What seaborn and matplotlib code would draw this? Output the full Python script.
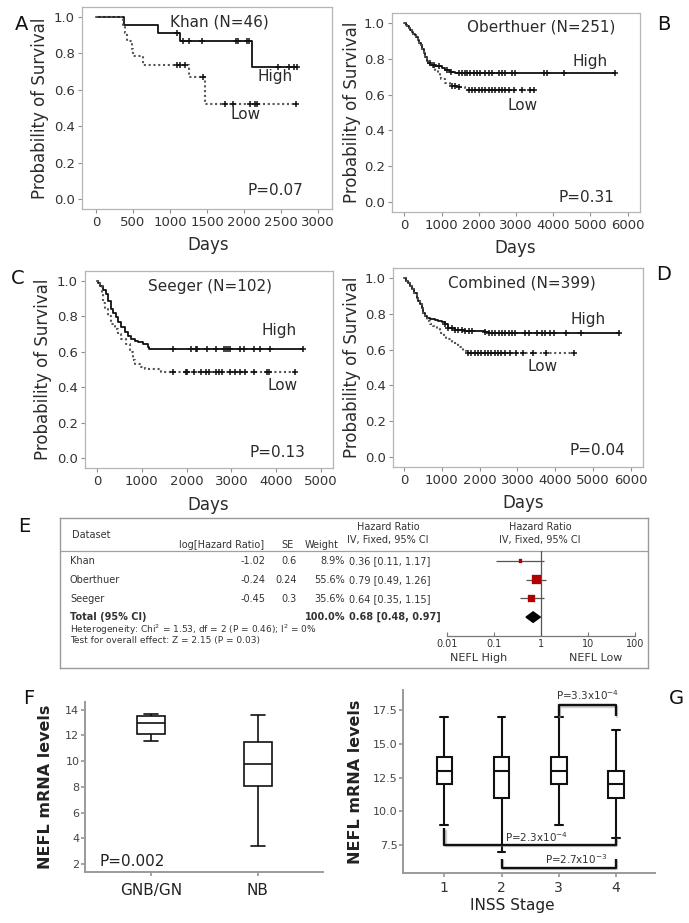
import numpy as np
import pandas as pd
import matplotlib
matplotlib.use("Agg")
import matplotlib.pyplot as plt
import matplotlib.patheffects as pe
import seaborn as sns

# ---------------------------------------------------------------- data
# Kaplan-Meier step curves (times of steps, survival after step), end of follow-up, censor times
khan_high_t = [0, 378, 838, 1135, 2108]
khan_high_s = [1.0, 0.957, 0.913, 0.870, 0.725]
khan_high_end = 2716
khan_high_cens = [1095, 1176, 1257, 1432, 1892, 1919, 2040, 2068, 2460, 2608, 2676, 2716]
khan_low_t = [0, 370, 395, 420, 480, 500, 640, 1260, 1470]
khan_low_s = [1.0, 0.957, 0.913, 0.870, 0.826, 0.783, 0.739, 0.672, 0.52]
khan_low_end = 2700
khan_low_cens = [1095, 1135, 1203, 1450, 1743, 1851, 2081, 2149, 2176, 2700]

ober_high_t = [0, 40, 80, 120, 160, 200, 240, 280, 320, 360, 400, 440, 480, 520, 560, 600,
               650, 700, 830, 1010, 1100, 1240, 1370]
ober_high_s = [1.0, 0.99, 0.98, 0.97, 0.96, 0.95, 0.94, 0.93, 0.92, 0.905, 0.89, 0.875, 0.855,
               0.83, 0.81, 0.79, 0.775, 0.765, 0.758, 0.748, 0.737, 0.725, 0.719]
ober_high_end = 5672
ober_high_cens = [699, 788, 923, 1147, 1263, 1460, 1550, 1640, 1684, 1774, 1863, 1953, 2043, 2177,
                  2267, 2356, 2535, 2625, 2715, 2894, 2983, 3745, 3835, 4283, 5672]
ober_low_t = [0, 40, 80, 120, 160, 200, 240, 280, 320, 360, 400, 440, 480, 520, 560, 600,
              650, 700, 780, 830, 900, 950, 980, 1100, 1240, 1420, 1640]
ober_low_s = [1.0, 0.99, 0.98, 0.97, 0.96, 0.95, 0.94, 0.93, 0.92, 0.905, 0.89, 0.875, 0.855,
              0.83, 0.81, 0.79, 0.775, 0.765, 0.75, 0.737, 0.72, 0.70, 0.685, 0.667, 0.648, 0.64, 0.626]
ober_low_end = 3476
ober_low_cens = [1281, 1371, 1460, 1729, 1819, 1908, 1998, 2087, 2177, 2267, 2356, 2446, 2535,
                 2625, 2715, 2804, 2939, 3163, 3387, 3476]

seeg_high_t = [0, 30, 80, 140, 214, 251, 310, 361, 435, 472, 546, 619, 693, 767, 841, 914,
               1025, 1136, 1173]
seeg_high_s = [1.0, 0.99, 0.97, 0.95, 0.923, 0.886, 0.84, 0.821, 0.793, 0.765, 0.737, 0.709,
               0.69, 0.672, 0.663, 0.654, 0.644, 0.626, 0.613]
seeg_high_end = 4602
seeg_high_cens = [1689, 2094, 2205, 2242, 2463, 2647, 2832, 2869, 2920, 2979, 3200, 3274, 3495,
                  3643, 3864, 4602]
seeg_low_t = [0, 60, 103, 140, 177, 251, 324, 398, 472, 546, 656, 730, 804, 841, 988, 1062, 1431]
seeg_low_s = [1.0, 0.97, 0.933, 0.877, 0.84, 0.803, 0.756, 0.728, 0.70, 0.672, 0.644, 0.598,
              0.551, 0.532, 0.514, 0.501, 0.485]
seeg_low_end = 4418
seeg_low_cens = [1689, 1984, 2020, 2168, 2316, 2426, 2500, 2647, 2721, 2795, 2979, 3090, 3200,
                 3311, 3495, 3790, 3827, 4418]

comb_high_t = [0, 60, 115, 160, 203, 270, 336, 380, 424, 470, 513, 560, 601, 690, 822, 911, 999,
               1088, 1176, 1353, 1618, 2149, 2237]
comb_high_s = [1.0, 0.985, 0.974, 0.955, 0.937, 0.915, 0.89, 0.87, 0.853, 0.83, 0.806, 0.79,
               0.778, 0.769, 0.763, 0.76, 0.756, 0.741, 0.719, 0.708, 0.704, 0.698, 0.694]
comb_high_end = 5687
comb_high_cens = [1088, 1176, 1264, 1353, 1441, 1530, 1618, 1707, 1795, 2149, 2237, 2326, 2414,
                  2503, 2591, 2680, 2768, 2857, 2945, 3210, 3299, 3520, 3653, 3741, 3874, 3963,
                  4272, 4670, 5687]
comb_low_t = [0, 60, 115, 160, 203, 270, 336, 380, 424, 470, 513, 560, 601, 690, 778, 867, 950,
              1050, 1100, 1265, 1441, 1574, 1662]
comb_low_s = [1.0, 0.985, 0.974, 0.955, 0.937, 0.915, 0.89, 0.87, 0.853, 0.83, 0.806, 0.785,
              0.76, 0.745, 0.732, 0.713, 0.694, 0.676, 0.657, 0.639, 0.615, 0.592, 0.583]
comb_low_end = 4492
comb_low_cens = [1689, 1777, 1866, 1954, 2043, 2131, 2220, 2308, 2396, 2485, 2573, 2662, 2794,
                 2971, 3148, 3413, 3767, 4492]

# Forest plot (panel E)
fp_datasets = ["Khan", "Oberthuer", "Seeger"]
fp_log_hr = [-1.02, -0.24, -0.45]
fp_se = [0.6, 0.24, 0.3]
fp_weight = [8.9, 55.6, 35.6]
fp_hr = [0.36, 0.79, 0.64]
fp_ci_low = [0.11, 0.49, 0.35]
fp_ci_high = [1.17, 1.26, 1.15]
fp_total = [0.68, 0.48, 0.97]   # HR, lower, upper
fp_total_weight = 100.0

# Panel F box summaries [min, q1, median, q3, max]
f_groups = ["GNB/GN", "NB"]
f_summary = [[11.6, 12.1, 13.0, 13.5, 13.7],
             [3.4, 8.1, 9.8, 11.5, 13.6]]

# Panel G box summaries [min, q1, median, q3, max]
g_stages = ["1", "2", "3", "4"]
g_summary = [[9, 12, 13, 14, 17],
             [7, 11, 13, 14, 17],
             [9, 12, 13, 14, 17],
             [8, 11, 12, 13, 16]]

# ---------------------------------------------------------------- figure
sns.set_theme(style="ticks")
plt.rcParams["font.family"] = ["DejaVu Sans"]
plt.rcParams["mathtext.default"] = "regular"

W, H = 689, 923
fig = plt.figure(figsize=(W / 100, H / 100), dpi=100)
fig.patch.set_facecolor("white")


def add_ax(x0, y0, x1, y1):
    return fig.add_axes([x0 / W, 1 - y1 / H, (x1 - x0) / W, (y1 - y0) / H])


TXT = "#2b2b2b"


def draw_km(ax, t, s, end, cens, dotted):
    tt = list(t) + [end]
    ss = list(s) + [s[-1]]
    df = pd.DataFrame({"Days": tt, "Survival": ss})
    if dotted:
        sns.lineplot(data=df, x="Days", y="Survival", ax=ax, drawstyle="steps-post",
                     estimator=None, sort=False, color="#555555", lw=1.5,
                     linestyle=(0, (1, 1.3)))
    else:
        sns.lineplot(data=df, x="Days", y="Survival", ax=ax, drawstyle="steps-post",
                     estimator=None, sort=False, color="#111111", lw=1.3)
    idx = np.searchsorted(np.asarray(t), np.asarray(cens), side="right") - 1
    cy = np.asarray(s)[idx]
    sns.scatterplot(x=cens, y=cy, ax=ax, marker="+", s=20, color="#111111",
                    linewidth=1.1, zorder=4)


def km_panel(box, xlim, xticks, high, low, title, tpos, hpos, lpos, ppos, ptxt, ylab_x, xlab_xy):
    ax = add_ax(*box)
    draw_km(ax, *high, dotted=False)
    draw_km(ax, *low, dotted=True)
    ax.set_xlim(xlim)
    ax.set_ylim(-0.055, 1.055)
    ax.set_yticks([0, 0.2, 0.4, 0.6, 0.8, 1.0])
    ax.set_yticklabels(["0.0", "0.2", "0.4", "0.6", "0.8", "1.0"])
    ax.set_xticks(xticks)
    ax.set_xticklabels([str(v) for v in xticks])
    for sp in ax.spines.values():
        sp.set_color("#b5b5b5")
        sp.set_linewidth(0.9)
    ax.tick_params(direction="out", length=3, width=0.8, color="#909090",
                   labelcolor="#333333", pad=2)
    ax.tick_params(axis="x", labelsize=9.5)
    ax.tick_params(axis="y", labelsize=9.5)
    ax.set_xlabel("Days", fontsize=12, color=TXT)
    ax.set_ylabel("Probability of Survival", fontsize=12, color=TXT)
    ax.xaxis.set_label_coords(*xlab_xy)
    ax.xaxis.label.set_va("center")
    ax.yaxis.set_label_coords(ylab_x, 0.5)
    ax.yaxis.label.set_va("center")
    ax.text(*tpos, title, transform=ax.transAxes, ha="center", va="center", fontsize=11, color=TXT)
    ax.text(*hpos, "High", transform=ax.transAxes, ha="center", va="center", fontsize=11, color=TXT)
    ax.text(*lpos, "Low", transform=ax.transAxes, ha="center", va="center", fontsize=11, color=TXT)
    ax.text(*ppos, ptxt, transform=ax.transAxes, ha="center", va="center", fontsize=11, color=TXT)
    return ax


km_panel((82, 7, 332, 209), (-189, 3189), [0, 500, 1000, 1500, 2000, 2500, 3000],
         (khan_high_t, khan_high_s, khan_high_end, khan_high_cens),
         (khan_low_t, khan_low_s, khan_low_end, khan_low_cens),
         "Khan (N=46)", (0.55, 0.925), (0.772, 0.655), (0.655, 0.47), (0.772, 0.09), "P=0.07",
         -0.168, (0.504, -0.178))

km_panel((392, 13, 640, 212), (-330, 6330), [0, 1000, 2000, 3000, 4000, 5000, 6000],
         (ober_high_t, ober_high_s, ober_high_end, ober_high_cens),
         (ober_low_t, ober_low_s, ober_low_end, ober_low_cens),
         "Oberthuer (N=251)", (0.6, 0.93), (0.798, 0.754), (0.528, 0.533), (0.786, 0.075), "P=0.31",
         -0.161, (0.496, -0.181))

km_panel((85, 271, 333, 468), (-265, 5265), [0, 1000, 2000, 3000, 4000, 5000],
         (seeg_high_t, seeg_high_s, seeg_high_end, seeg_high_cens),
         (seeg_low_t, seeg_low_s, seeg_low_end, seeg_low_cens),
         "Seeger (N=102)", (0.504, 0.919), (0.782, 0.70), (0.798, 0.42), (0.774, 0.081), "P=0.13",
         -0.169, (0.496, -0.188))

km_panel((393, 268, 643, 467), (-290, 6320), [0, 1000, 2000, 3000, 4000, 5000, 6000],
         (comb_high_t, comb_high_s, comb_high_end, comb_high_cens),
         (comb_low_t, comb_low_s, comb_low_end, comb_low_cens),
         "Combined (N=399)", (0.516, 0.925), (0.78, 0.739), (0.6, 0.503), (0.816, 0.085), "P=0.04",
         -0.165, (0.52, -0.181))

# panel letters
for lab, (px, py) in {"A": (22, 24), "B": (664, 25), "C": (18, 279), "D": (664, 274),
                      "E": (24, 527), "F": (29, 698), "G": (676, 698)}.items():
    fig.text(px / W, 1 - py / H, lab, fontsize=14, ha="center", va="center", color="#111111")

# ---------------------------------------------------------------- panel E (table + forest)
ax_e = add_ax(60, 518, 648, 668)
ax_e.set_xlim(60, 648)
ax_e.set_ylim(668, 518)
ax_e.set_xticks([])
ax_e.set_yticks([])
for sp in ax_e.spines.values():
    sp.set_color("#9a9a9a")
    sp.set_linewidth(1.0)
ax_e.axhline(551, color="#a0a0a0", lw=0.9)
tk = dict(fontsize=7, color="#333333", va="center")
ax_e.text(72, 535, "Dataset", ha="left", **tk)
ax_e.text(222, 545, "log[Hazard Ratio]", ha="center", **tk)
ax_e.text(287, 545, "SE", ha="center", **tk)
ax_e.text(322, 545, "Weight", ha="center", **tk)
ax_e.text(388, 527, "Hazard Ratio", ha="center", **tk)
ax_e.text(388, 540, "IV, Fixed, 95% CI", ha="center", **tk)
ax_e.text(540, 527, "Hazard Ratio", ha="center", **tk)
ax_e.text(540, 540, "IV, Fixed, 95% CI", ha="center", **tk)
row_y = [561, 580, 599]
for i, name in enumerate(fp_datasets):
    y = row_y[i]
    ax_e.text(70, y, name, ha="left", **tk)
    ax_e.text(266, y, f"{fp_log_hr[i]:.2f}", ha="right", **tk)
    ax_e.text(297, y, f"{fp_se[i]:g}", ha="right", **tk)
    ax_e.text(345, y, f"{fp_weight[i]:.1f}%", ha="right", **tk)
    ax_e.text(349, y, f"{fp_hr[i]:.2f} [{fp_ci_low[i]:.2f}, {fp_ci_high[i]:.2f}]", ha="left", **tk)
tb = dict(tk, fontweight="bold")
ax_e.text(70, 617, "Total (95% CI)", ha="left", **tb)
ax_e.text(345, 617, f"{fp_total_weight:.1f}%", ha="right", **tb)
ax_e.text(349, 617, f"{fp_total[0]:.2f} [{fp_total[1]:.2f}, {fp_total[2]:.2f}]", ha="left", **tb)
ax_e.text(70, 630, "Heterogeneity: Chi$^2$ = 1.53, df = 2 (P = 0.46); I$^2$ = 0%",
          ha="left", fontsize=6.5, color="#333333", va="center")
ax_e.text(70, 641, "Test for overall effect: Z = 2.15 (P = 0.03)",
          ha="left", fontsize=6.5, color="#333333", va="center")
ax_e.text(479, 658, "NEFL High", ha="center", fontsize=8, color="#333333", va="center")
ax_e.text(596, 658, "NEFL Low", ha="center", fontsize=8, color="#333333", va="center")

ax_f = add_ax(447, 551, 635, 636)
ax_f.patch.set_alpha(0)
ax_f.set_xscale("log")
ax_f.set_xlim(0.01, 100)
ax_f.set_ylim(4.01, -0.535)
rows = np.arange(len(fp_datasets))
ax_f.hlines(rows, fp_ci_low, fp_ci_high, color="#555555", lw=0.9)
fp_df = pd.DataFrame({"hr": fp_hr, "row": rows, "weight": fp_weight})
sns.scatterplot(data=fp_df, x="hr", y="row", size="weight", sizes=(5, 40), marker="s",
                color="#b00000", edgecolor="#b00000", legend=False, ax=ax_f, zorder=3)
trow = len(fp_datasets)
ax_f.fill([fp_total[1], fp_total[0], fp_total[2], fp_total[0]],
          [trow, trow - 0.28, trow, trow + 0.28], color="black", zorder=3)
ax_f.axvline(1, color="#555555", lw=0.9)
for s in ["left", "right", "top"]:
    ax_f.spines[s].set_visible(False)
ax_f.spines["bottom"].set_color("#777777")
ax_f.spines["bottom"].set_linewidth(0.9)
ax_f.set_yticks([])
ax_f.set_xticks([0.01, 0.1, 1, 10, 100])
ax_f.set_xticklabels(["0.01", "0.1", "1", "10", "100"])
ax_f.minorticks_off()
ax_f.tick_params(axis="x", direction="in", length=3, width=0.8, color="#777777",
                 labelsize=7, labelcolor="#333333", pad=2)
ax_f.set_xlabel("")
ax_f.set_ylabel("")

# ---------------------------------------------------------------- panel F
def box_df(groups, summary, gname):
    recs = []
    for g, vals in zip(groups, summary):
        for v in vals:
            recs.append({gname: g, "value": v})
    return pd.DataFrame(recs)


axF = add_ax(85, 702, 323, 872)
dfF = box_df(f_groups, f_summary, "group")
sns.boxplot(data=dfF, x="group", y="value", ax=axF, width=0.26, whis=(0, 100),
            color="white", linecolor="#111111", linewidth=1.2, fliersize=0)
axF.set_xlim(-0.62, 1.61)
axF.set_ylim(1.38, 14.6)
axF.set_yticks([2, 4, 6, 8, 10, 12, 14])
sns.despine(ax=axF)
for s in ["left", "bottom"]:
    axF.spines[s].set_color("#9a9a9a")
    axF.spines[s].set_linewidth(1.4)
axF.tick_params(axis="y", direction="out", length=3, color="#9a9a9a", labelsize=8,
                labelcolor="#444444", pad=1)
axF.tick_params(axis="x", direction="out", length=3, color="#9a9a9a", labelsize=11,
                labelcolor="#222222", pad=5)
axF.set_xlabel("")
axF.set_ylabel("NEFL mRNA levels", fontsize=11.5, fontweight="bold", color="#222222")
axF.yaxis.set_label_coords(-0.168, 0.5)
axF.yaxis.label.set_va("center")
axF.text(0.063, 0.06, "P=0.002", transform=axF.transAxes, ha="left", va="center",
         fontsize=11, color="#222222")

# ---------------------------------------------------------------- panel G
axG = add_ax(403, 690, 655, 873)
dfG = box_df(g_stages, g_summary, "stage")
sns.boxplot(data=dfG, x="stage", y="value", ax=axG, width=0.27, whis=(0, 100),
            color="white", linecolor="#111111", linewidth=1.5, fliersize=0)
axG.set_xlim(-0.72, 3.68)
axG.set_ylim(5.43, 19.0)
axG.set_yticks([7.5, 10, 12.5, 15, 17.5])
axG.set_yticklabels(["7.5", "10.0", "12.5", "15.0", "17.5"])
sns.despine(ax=axG)
for s in ["left", "bottom"]:
    axG.spines[s].set_color("#9a9a9a")
    axG.spines[s].set_linewidth(1.4)
axG.tick_params(axis="y", direction="out", length=3, color="#9a9a9a", labelsize=8,
                labelcolor="#444444", pad=1)
axG.tick_params(axis="x", direction="out", length=3, color="#9a9a9a", labelsize=10,
                labelcolor="#333333", pad=3)
axG.set_xlabel("INSS Stage", fontsize=11, color="#222222")
axG.xaxis.set_label_coords(0.433, -0.175)
axG.xaxis.label.set_va("center")
axG.set_ylabel("NEFL mRNA levels", fontsize=11.5, fontweight="bold", color="#222222")
axG.yaxis.set_label_coords(-0.19, 0.5)
axG.yaxis.label.set_va("center")

shadow = [pe.SimpleLineShadow(offset=(1.0, -1.0), shadow_color="#999999", alpha=0.45), pe.Normal()]
brk = dict(color="#111111", lw=1.7, solid_capstyle="butt", path_effects=shadow, clip_on=False)
axG.plot([2, 2, 3, 3], [17.05, 17.87, 17.87, 17.05], **brk)
axG.plot([0, 0, 3, 3], [8.75, 7.5, 7.5, 8.1], **brk)
axG.plot([1, 1, 3, 3], [6.5, 5.8, 5.8, 6.5], **brk)
gt = dict(fontsize=7.5, color="#333333", ha="center", va="center")
axG.text(2.5, 18.6, "P=3.3x10$^{-4}$", clip_on=False, **gt)
axG.text(1.62, 8.1, "P=2.3x10$^{-4}$", **gt)
axG.text(2.3, 6.45, "P=2.7x10$^{-3}$", **gt)

fig.savefig("out.png", dpi=100, facecolor="white")
